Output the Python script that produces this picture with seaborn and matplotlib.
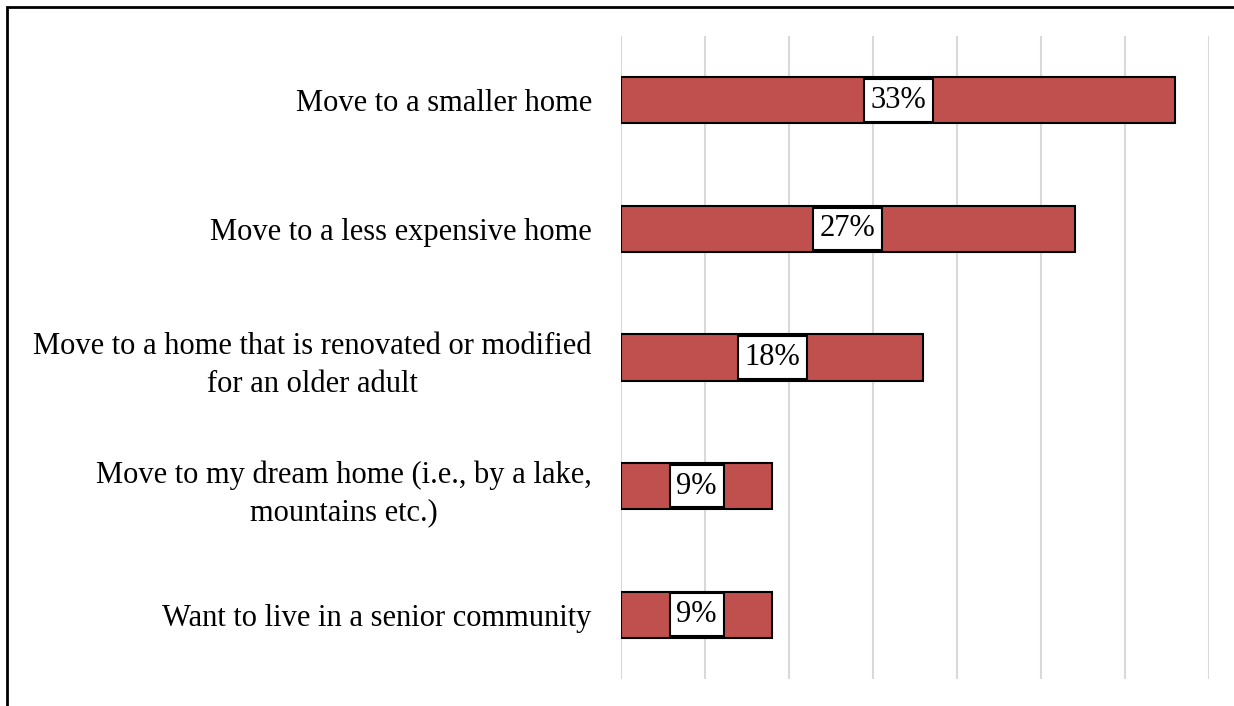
import matplotlib
matplotlib.use("Agg")
import matplotlib.pyplot as plt
import seaborn as sns
import pandas as pd
from matplotlib.patches import Rectangle

categories = [
    "Move to a smaller home",
    "Move to a less expensive home",
    "Move to a home that is renovated or modified\nfor an older adult",
    "Move to my dream home (i.e., by a lake,\nmountains etc.)",
    "Want to live in a senior community",
]
values = [33, 27, 18, 9, 9]
x_ticks = [0, 5, 10, 15, 20, 25, 30, 35]

df = pd.DataFrame({"category": categories, "value": values})

sns.set_theme(style="white")
plt.rcParams["font.family"] = ["Liberation Serif", "DejaVu Serif"]

W, H = 1234, 706
fig = plt.figure(figsize=(W / 100, H / 100), dpi=100)
ax = fig.add_axes([621 / W, 1 - 679 / H, (1209 - 621) / W, (679 - 36) / H])

sns.barplot(data=df, x="value", y="category", orient="h", color="#C0504D",
            saturation=1, width=0.36, edgecolor="black", linewidth=1.5, ax=ax)

ax.set_xlim(0, 35)
ax.set_ylim(4.5, -0.5)
ax.set_xticks(x_ticks)
ax.set_xticklabels([])
ax.grid(axis="x", color="#D9D9D9", linewidth=1.5)
ax.set_axisbelow(True)
for s in ax.spines.values():
    s.set_visible(False)
ax.set_xlabel("")
ax.set_ylabel("")
ax.tick_params(axis="y", length=0, pad=21, labelsize=22)
ax.tick_params(axis="x", length=0)
for lbl in ax.get_yticklabels():
    lbl.set_horizontalalignment("right")
    lbl.set_multialignment("center")
    lbl.set_linespacing(1.4)
    lbl.set_color("black")

for cont in ax.containers:
    ax.bar_label(cont, labels=[f"{v}%" for v in values], label_type="center",
                 fontsize=22, color="black",
                 bbox=dict(boxstyle="square,pad=0.22", facecolor="white",
                           edgecolor="black", linewidth=1.5))

# chart frame
fig.patches.append(Rectangle((7 / W, -0.1), 1.2, 1 - 7 / H + 0.1,
                             transform=fig.transFigure, fill=False,
                             edgecolor="black", linewidth=2, zorder=10))

fig.savefig("out.png", dpi=100)
